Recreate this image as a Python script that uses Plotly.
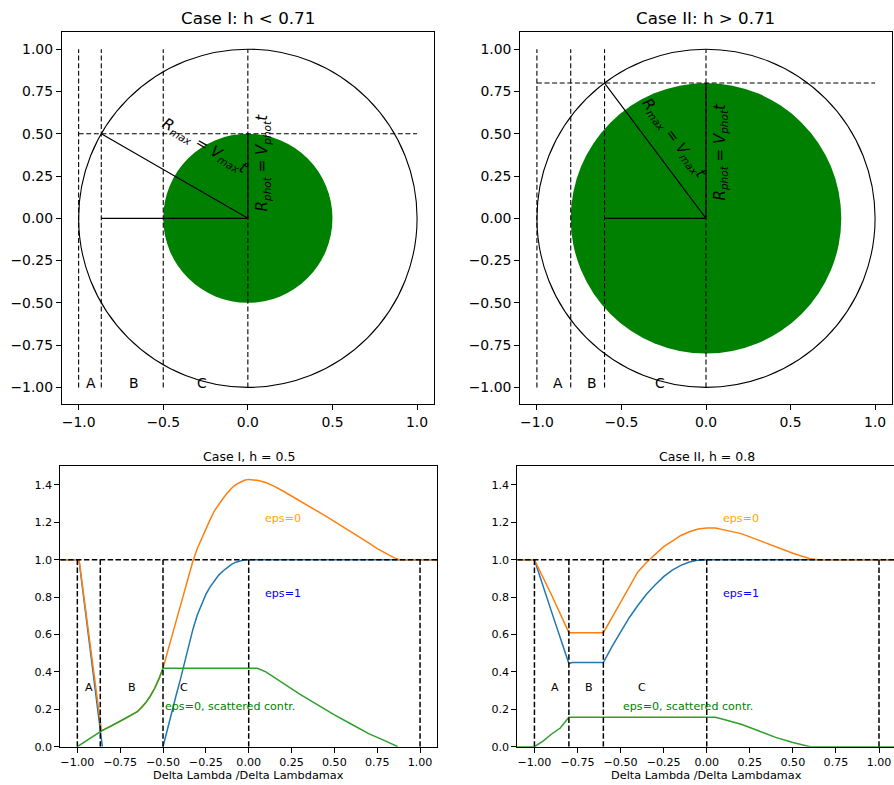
import math
import plotly.graph_objects as go

W, H = 894, 785

# ---------------- data ----------------
h_values = [0.5, 0.8]
top_titles = ["Case I: h < 0.71", "Case II: h > 0.71"]
bottom_titles = ["Case I, h = 0.5", "Case II, h = 0.8"]
x_label = "Delta Lambda /Delta Lambdamax"
zone_labels = ["A", "B", "C"]
top_zone_x = [[-0.929, -0.675, -0.272], [-0.876, -0.675, -0.272]]
bottom_zone_x = [[-0.932, -0.681, -0.379], [-0.880, -0.681, -0.377]]

case1_bounds = [-1.0, -0.866, -0.5, 0.0, 1.0]
case2_bounds = [-1.0, -0.8, -0.6, 0.0, 1.0]

# Case I, h = 0.5
c1_blue_x = [-1.1, -1.05, -1.0, -0.99, -0.95, -0.9, -0.854, None,
             -0.5, -0.475, -0.45, -0.425, -0.4, -0.375, -0.35, -0.325, -0.3, -0.275,
             -0.25, -0.225, -0.2, -0.175, -0.15, -0.125, -0.1, -0.075, -0.05, -0.025,
             0.0, 0.25, 0.5, 0.75, 1.0, 1.1]
c1_blue_y = [1.0, 1.0, 1.0, 0.995, 0.70, 0.33, 0.0, None,
             0.0, 0.095, 0.185, 0.27, 0.355, 0.45, 0.54, 0.63, 0.705, 0.765,
             0.815, 0.855, 0.89, 0.918, 0.94, 0.96, 0.975, 0.987, 0.995, 1.0,
             1.0, 1.0, 1.0, 1.0, 1.0, 1.0]

c1_green_x = [-1.0, -0.93, -0.859, -0.8, -0.714, -0.65, -0.625, -0.6, -0.575, -0.55,
              -0.525, -0.5, -0.4, -0.3, -0.2, -0.1, 0.0, 0.05, 0.1, 0.2, 0.3, 0.4, 0.5,
              0.6, 0.7, 0.8, 0.87]
c1_green_y = [0.0, 0.043, 0.085, 0.112, 0.153, 0.187, 0.21, 0.236, 0.27, 0.31,
              0.36, 0.42, 0.42, 0.42, 0.42, 0.42, 0.42, 0.42, 0.40, 0.34, 0.28, 0.225, 0.17,
              0.12, 0.07, 0.03, 0.0]

c1_orange_x = [-1.1, -1.0, -0.99, -0.859, -0.8, -0.714, -0.65, -0.625, -0.6, -0.575,
               -0.55, -0.525, -0.5,
               -0.475, -0.45, -0.425, -0.4, -0.375, -0.35, -0.325, -0.3, -0.275, -0.25,
               -0.225, -0.2, -0.175, -0.15, -0.125, -0.1, -0.075, -0.05, -0.025, 0.0,
               0.05, 0.1, 0.15, 0.2, 0.25, 0.3, 0.35, 0.4, 0.45, 0.5, 0.55, 0.6, 0.65,
               0.7, 0.75, 0.8, 0.85, 0.88, 0.95, 1.0, 1.1]
c1_orange_y = [1.0, 1.0, 1.0, 0.085, 0.112, 0.153, 0.187, 0.21, 0.236, 0.27,
               0.31, 0.36, 0.42,
               0.503, 0.585, 0.668, 0.75, 0.838, 0.925, 0.995, 1.06, 1.115, 1.165,
               1.215, 1.262, 1.298, 1.328, 1.357, 1.383, 1.402, 1.415, 1.425, 1.43,
               1.425, 1.413, 1.393, 1.368, 1.342, 1.315, 1.288, 1.26, 1.233, 1.205, 1.175,
               1.145, 1.118, 1.09, 1.06, 1.035, 1.01, 1.0, 1.0, 1.0, 1.0]

# Case II, h = 0.8
c2_blue_x = [-1.1, -1.0, -0.9, -0.8, -0.78, -0.7, -0.6, -0.55, -0.5, -0.45, -0.4,
             -0.35, -0.3, -0.25, -0.2, -0.15, -0.1, -0.05, 0.0, 0.25, 0.5, 0.75, 1.0, 1.1]
c2_blue_y = [1.0, 1.0, 0.72, 0.445, 0.45, 0.45, 0.45, 0.535, 0.615, 0.69, 0.755,
             0.815, 0.865, 0.91, 0.945, 0.97, 0.988, 0.998, 1.0, 1.0, 1.0, 1.0, 1.0, 1.0]

c2_orange_x = [-1.1, -1.0, -0.9, -0.8, -0.7, -0.6, -0.55, -0.5, -0.45, -0.4, -0.35,
               -0.3, -0.25, -0.2, -0.15, -0.1, -0.05, 0.0, 0.05, 0.1, 0.2, 0.3, 0.4,
               0.5, 0.6, 0.65, 0.75, 1.0, 1.1]
c2_orange_y = [1.0, 1.0, 0.81, 0.61, 0.61, 0.61, 0.69, 0.77, 0.855, 0.935, 0.985,
               1.025, 1.07, 1.10, 1.13, 1.15, 1.165, 1.17, 1.17, 1.16, 1.14, 1.105, 1.07,
               1.035, 1.005, 1.0, 1.0, 1.0, 1.0]

c2_green_x = [-1.1, -1.0, -0.95, -0.9, -0.85, -0.8, -0.6, -0.4, -0.2, 0.0, 0.05,
              0.1, 0.2, 0.3, 0.4, 0.5, 0.6, 0.75, 1.0, 1.1]
c2_green_y = [0.0, 0.0, 0.03, 0.068, 0.1, 0.158, 0.158, 0.158, 0.158, 0.158, 0.157,
              0.145, 0.12, 0.085, 0.05, 0.022, 0.0, 0.0, 0.0, 0.0]

top_x_ticks = [-1.0, -0.5, 0.0, 0.5, 1.0]
top_y_ticks = [-1.0, -0.75, -0.5, -0.25, 0.0, 0.25, 0.5, 0.75, 1.0]
bot_x_ticks = [-1.0, -0.75, -0.5, -0.25, 0.0, 0.25, 0.5, 0.75, 1.0]
bot_y_ticks = [0.0, 0.2, 0.4, 0.6, 0.8, 1.0, 1.2, 1.4]

# --------------- styles ---------------
FONT = "DejaVu Sans"
C_BLUE, C_ORANGE, C_GREEN = "#1f77b4", "#ff7f0e", "#2ca02c"
TOP_DASH = dict(color="black", width=1.1, dash="5px,2.6px")
BOT_DASH = dict(color="black", width=1.5, dash="5.5px,2.4px")
SOLID = dict(color="black", width=1.2)


def px_x(p):
    return p / W


def px_y(p):
    return 1 - p / H


fig = go.Figure()

top_dom_x = [[px_x(61.7), px_x(434.0)], [px_x(520.0), px_x(892.0)]]
top_dom_y = [px_y(404.3), px_y(32.3)]
bot_dom_x = [[px_x(60.2), px_x(437.2)], [px_x(517.2), 1.0]]
bot_dom_y = [px_y(746.7), px_y(466.3)]
bot_x_range = [[-1.1, 1.1], [-1.1, 1.087]]

axis_common = dict(showgrid=False, zeroline=False, showline=True, linecolor="black",
                   linewidth=1, ticks="outside", ticklen=4.9, tickwidth=0.9,
                   tickcolor="black", color="black", automargin=False)

annotations = []
shapes = []

for i, h in enumerate(h_values):
    xa = "x" if i == 0 else "x2"
    ya = "y" if i == 0 else "y2"
    s = math.sqrt(1 - h * h)
    shapes.append(dict(type="circle", xref=xa, yref=ya, x0=-h, y0=-h, x1=h, y1=h,
                       fillcolor="green", line=dict(width=0), layer="below"))
    shapes.append(dict(type="circle", xref=xa, yref=ya, x0=-1, y0=-1, x1=1, y1=1,
                       line=dict(color="black", width=1.1), layer="below"))
    vx, vy = [], []
    for xv in [-1.0, -s, -h, 0.0]:
        vx += [xv, xv, None]
        vy += [-1.0, 1.0, None]
    fig.add_trace(go.Scatter(x=vx, y=vy, mode="lines", line=TOP_DASH, xaxis=xa, yaxis=ya,
                             showlegend=False, hoverinfo="skip"))
    fig.add_trace(go.Scatter(x=[-1.0, 1.0], y=[h, h], mode="lines", line=TOP_DASH,
                             xaxis=xa, yaxis=ya, showlegend=False, hoverinfo="skip"))
    fig.add_trace(go.Scatter(x=[-s, 0.0, 0.0, None, -s, 0.0], y=[h, 0.0, h, None, 0.0, 0.0],
                             mode="lines", line=SOLID, xaxis=xa, yaxis=ya,
                             showlegend=False, hoverinfo="skip"))
    ang = math.degrees(math.atan2(h, s))
    if i == 0:
        rmax_pos, rphot_pos = (-0.252, 0.425), (0.089, 0.33)
    else:
        rmax_pos, rphot_pos = (-0.19, 0.47), (0.083, 0.395)
    annotations.append(dict(xref=xa, yref=ya, x=rmax_pos[0], y=rmax_pos[1],
                            text="<i>R</i><sub><i>max</i></sub> = <i>V</i><sub><i>max</i></sub><i>t</i>",
                            showarrow=False, textangle=ang, xanchor="center", yanchor="middle",
                            font=dict(family=FONT, size=15, color="black")))
    annotations.append(dict(xref=xa, yref=ya, x=rphot_pos[0], y=rphot_pos[1],
                            text="<i>R</i><sub><i>phot</i></sub> = <i>V</i><sub><i>phot</i></sub><i>t</i>",
                            showarrow=False, textangle=-90, xanchor="center", yanchor="middle",
                            font=dict(family=FONT, size=15, color="black")))
    for lab, lx in zip(zone_labels, top_zone_x[i]):
        annotations.append(dict(xref=xa, yref=ya, x=lx, y=-0.973, text=lab, showarrow=False,
                                xanchor="center", yanchor="middle",
                                font=dict(family=FONT, size=13.9, color="black")))
    annotations.append(dict(xref="paper", yref="paper",
                            x=(top_dom_x[i][0] + top_dom_x[i][1]) / 2, y=px_y(18),
                            text=top_titles[i], showarrow=False, xanchor="center", yanchor="middle",
                            font=dict(family=FONT, size=16.7, color="black")))

bottom_data = [
    (c1_blue_x, c1_blue_y, c1_orange_x, c1_orange_y, c1_green_x, c1_green_y, case1_bounds),
    (c2_blue_x, c2_blue_y, c2_orange_x, c2_orange_y, c2_green_x, c2_green_y, case2_bounds),
]
for i, (bx, by, ox, oy, gx, gy, bounds) in enumerate(bottom_data):
    xa = "x3" if i == 0 else "x4"
    ya = "y3" if i == 0 else "y4"
    fig.add_trace(go.Scatter(x=bx, y=by, mode="lines", line=dict(color=C_BLUE, width=1.5),
                             xaxis=xa, yaxis=ya, showlegend=False, connectgaps=False))
    fig.add_trace(go.Scatter(x=ox, y=oy, mode="lines", line=dict(color=C_ORANGE, width=1.5),
                             xaxis=xa, yaxis=ya, showlegend=False))
    fig.add_trace(go.Scatter(x=gx, y=gy, mode="lines", line=dict(color=C_GREEN, width=1.5),
                             xaxis=xa, yaxis=ya, showlegend=False))
    vx, vy = [], []
    for xv in bounds:
        vx += [xv, xv, None]
        vy += [0.0, 1.0, None]
    vx += [-1.1, 1.1]
    vy += [1.0, 1.0]
    fig.add_trace(go.Scatter(x=vx, y=vy, mode="lines", line=BOT_DASH, xaxis=xa, yaxis=ya,
                             showlegend=False, hoverinfo="skip"))
    for lab, lx in zip(zone_labels, bottom_zone_x[i]):
        annotations.append(dict(xref=xa, yref=ya, x=lx, y=0.316, text=lab, showarrow=False,
                                xanchor="center", yanchor="middle",
                                font=dict(family=FONT, size=11.1, color="black")))
    annotations.append(dict(xref=xa, yref=ya, x=0.2, y=1.22, text="eps=0", showarrow=False,
                            xanchor="center", yanchor="middle",
                            font=dict(family=FONT, size=11.1, color="orange")))
    annotations.append(dict(xref=xa, yref=ya, x=0.2, y=0.818, text="eps=1", showarrow=False,
                            xanchor="center", yanchor="middle",
                            font=dict(family=FONT, size=11.1, color="blue")))
    annotations.append(dict(xref=xa, yref=ya, x=-0.5, y=0.213, text="eps=0, scattered contr.",
                            showarrow=False, xanchor="left", yanchor="middle",
                            font=dict(family=FONT, size=11.1, color="green")))
    cx = 248.7 / W if i == 0 else 706.7 / W
    annotations.append(dict(xref="paper", yref="paper", x=cx, y=px_y(456),
                            text=bottom_titles[i], showarrow=False, xanchor="center",
                            yanchor="middle",
                            font=dict(family=FONT, size=12.5, color="black")))
    annotations.append(dict(xref="paper", yref="paper", x=cx, y=px_y(775.5),
                            text=x_label, showarrow=False, xanchor="center",
                            yanchor="middle",
                            font=dict(family=FONT, size=11.3, color="black")))

layout = dict(width=W, height=H, autosize=False, margin=dict(l=0, r=0, t=0, b=0, autoexpand=False),
              paper_bgcolor="white", plot_bgcolor="white", showlegend=False,
              font=dict(family=FONT, color="black"),
              annotations=annotations, shapes=shapes)

top_tick_font = dict(family=FONT, size=13.9, color="black")
bot_tick_font = dict(family=FONT, size=11.1, color="black")

layout["xaxis"] = dict(axis_common, domain=top_dom_x[0], anchor="y", range=[-1.1, 1.1],
                       tickvals=top_x_ticks, tickformat=".1f", tickfont=top_tick_font, mirror=True)
layout["yaxis"] = dict(axis_common, domain=top_dom_y, anchor="x", range=[-1.1, 1.1],
                       tickvals=top_y_ticks, tickformat=".2f", tickfont=top_tick_font, mirror=True)
layout["xaxis2"] = dict(axis_common, domain=top_dom_x[1], anchor="y2", range=[-1.1, 1.1],
                        tickvals=top_x_ticks, tickformat=".1f", tickfont=top_tick_font, mirror=True)
layout["yaxis2"] = dict(axis_common, domain=top_dom_y, anchor="x2", range=[-1.1, 1.1],
                        tickvals=top_y_ticks, tickformat=".2f", tickfont=top_tick_font, mirror=True)
layout["xaxis3"] = dict(axis_common, domain=bot_dom_x[0], anchor="y3", range=bot_x_range[0],
                        tickvals=bot_x_ticks, tickformat=".2f", tickfont=bot_tick_font, mirror=True)
layout["yaxis3"] = dict(axis_common, domain=bot_dom_y, anchor="x3", range=[0, 1.5],
                        tickvals=bot_y_ticks, tickformat=".1f", tickfont=bot_tick_font, mirror=True)
layout["xaxis4"] = dict(axis_common, domain=bot_dom_x[1], anchor="y4", range=bot_x_range[1],
                        tickvals=bot_x_ticks, tickformat=".2f", tickfont=bot_tick_font, mirror=True)
layout["yaxis4"] = dict(axis_common, domain=bot_dom_y, anchor="x4", range=[0, 1.5],
                        tickvals=bot_y_ticks, tickformat=".1f", tickfont=bot_tick_font, mirror=False)

fig.update_layout(**layout)
fig.write_html("out.html")
